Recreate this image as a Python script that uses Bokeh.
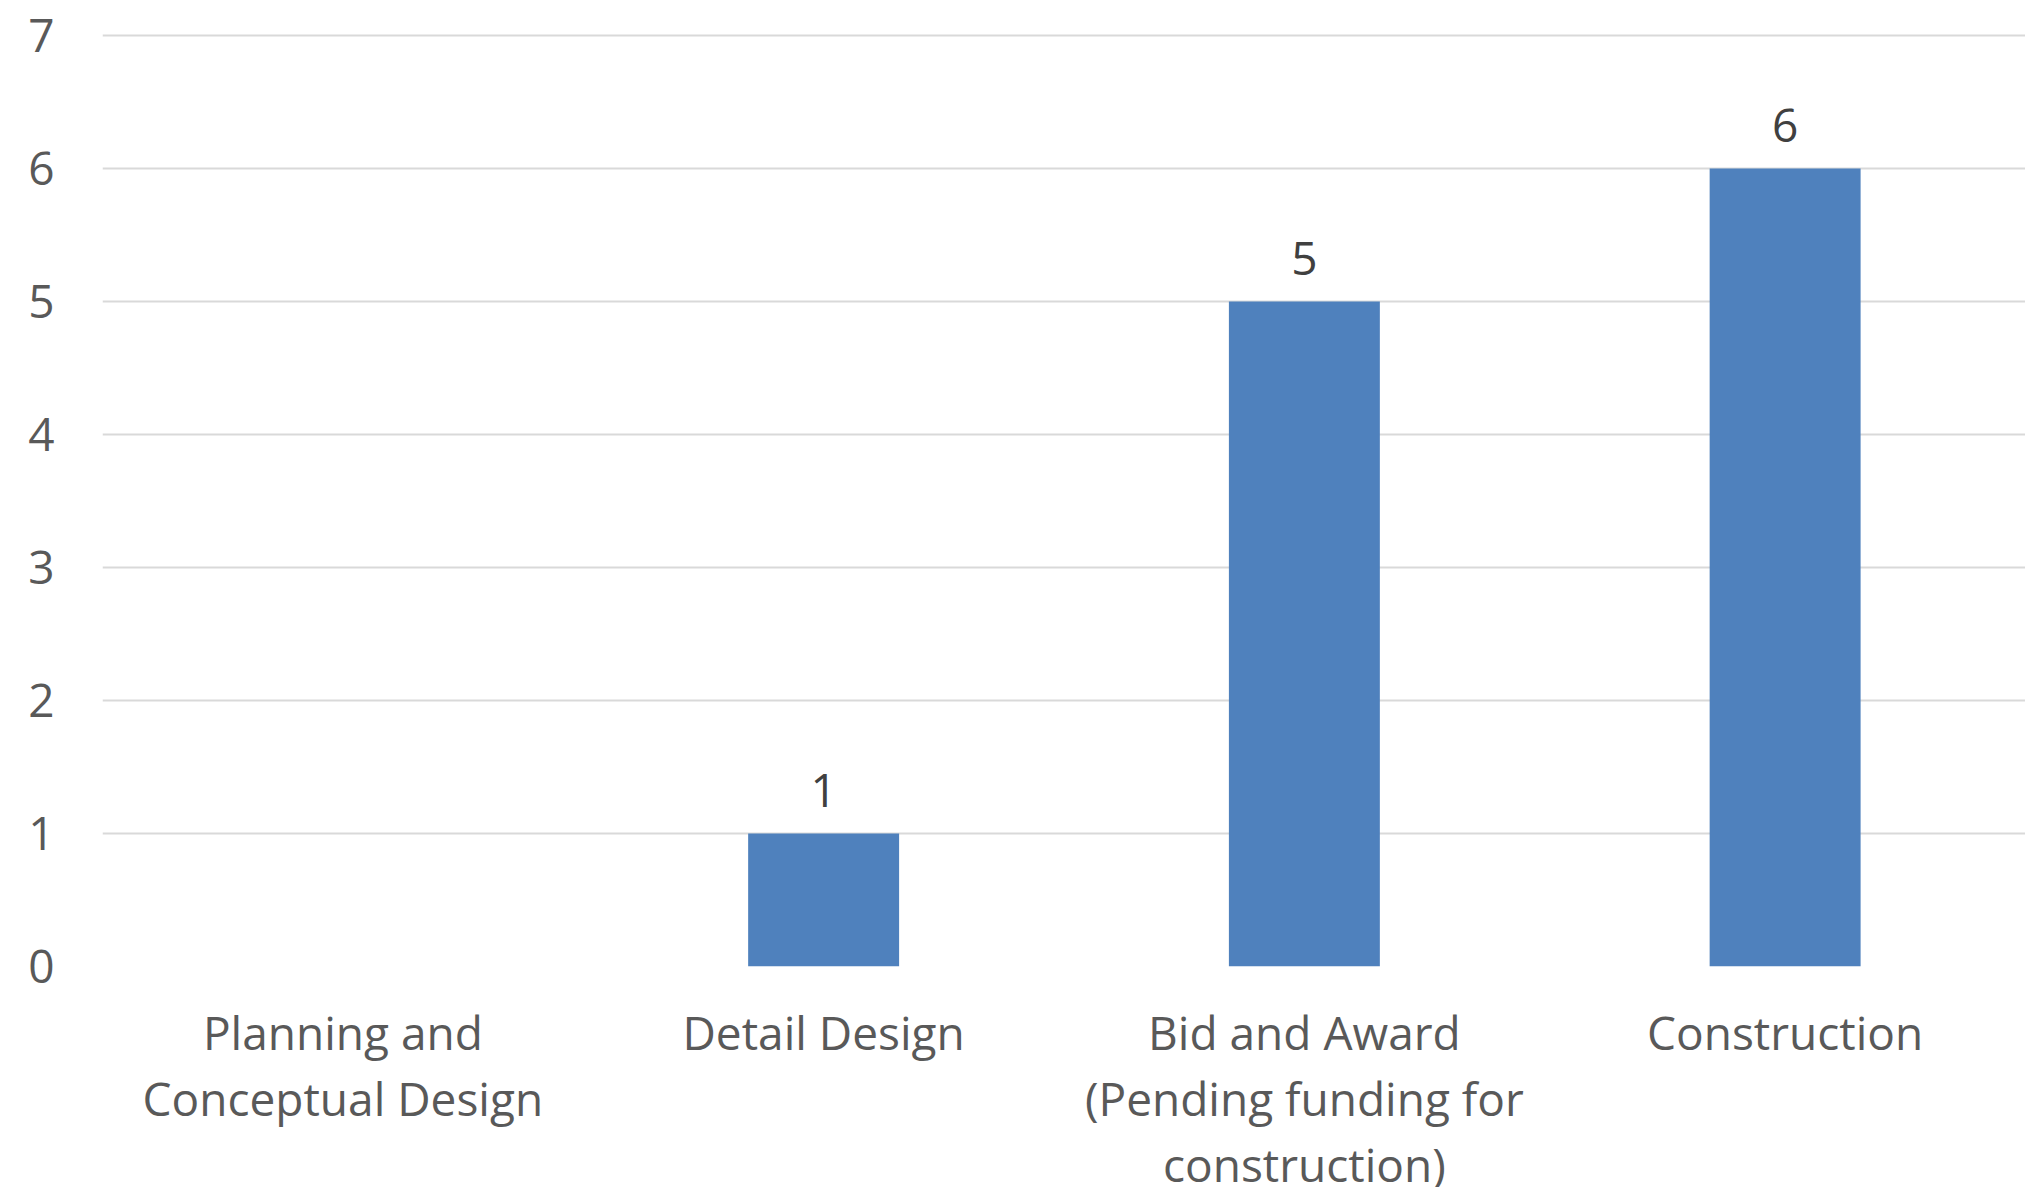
from bokeh.plotting import figure
from bokeh.models import FactorRange, Range1d, FixedTicker, ColumnDataSource, LabelSet
from bokeh.core.properties import value
from bokeh.embed import file_html
from bokeh.resources import INLINE

categories = ["Planning and\nConceptual Design", "Detail Design",
              "Bid and Award\n(Pending funding for\nconstruction)", "Construction"]
counts = [0, 1, 5, 6]
y_ticks = [0, 1, 2, 3, 4, 5, 6, 7]

FONT = "Open Sans"

p = figure(x_range=FactorRange(*categories, range_padding=0), y_range=Range1d(0, 7.015),
           frame_width=1923, frame_height=933, output_backend="svg", toolbar_location=None,
           min_border_left=102, min_border_right=0, min_border_top=33, min_border_bottom=0)
p.outline_line_color = None
p.background_fill_color = "white"
p.border_fill_color = "white"

src = ColumnDataSource(dict(cat=categories, val=counts))
p.vbar(x="cat", top="val", width=0.314, source=src, fill_color="#4f81bd", line_color=None)

lab_src = ColumnDataSource(dict(cat=[c for c, v in zip(categories, counts) if v > 0],
                                val=[v for v in counts if v > 0],
                                txt=[str(v) for v in counts if v > 0]))
labels = LabelSet(x="cat", y="val", text="txt", source=lab_src, text_align="center",
                  text_baseline="alphabetic", y_offset=26, text_font=value(FONT),
                  text_font_size="46px", text_color="#404040")
p.add_layout(labels)

p.xgrid.grid_line_color = None
p.ygrid.grid_line_color = "#d9d9d9"
p.ygrid.grid_line_width = 2

p.yaxis.ticker = FixedTicker(ticks=y_ticks)
for ax in (p.xaxis, p.yaxis):
    ax.axis_line_color = None
    ax.major_tick_line_color = None
    ax.minor_tick_line_color = None
    ax.major_label_text_font = FONT
    ax.major_label_text_font_size = "46px"
    ax.major_label_text_color = "#595959"
p.yaxis.major_label_standoff = 42
p.xaxis.major_label_standoff = 28
p.xaxis.major_label_text_line_height = 1.065

open("out.html", "w").write(file_html(p, INLINE))
